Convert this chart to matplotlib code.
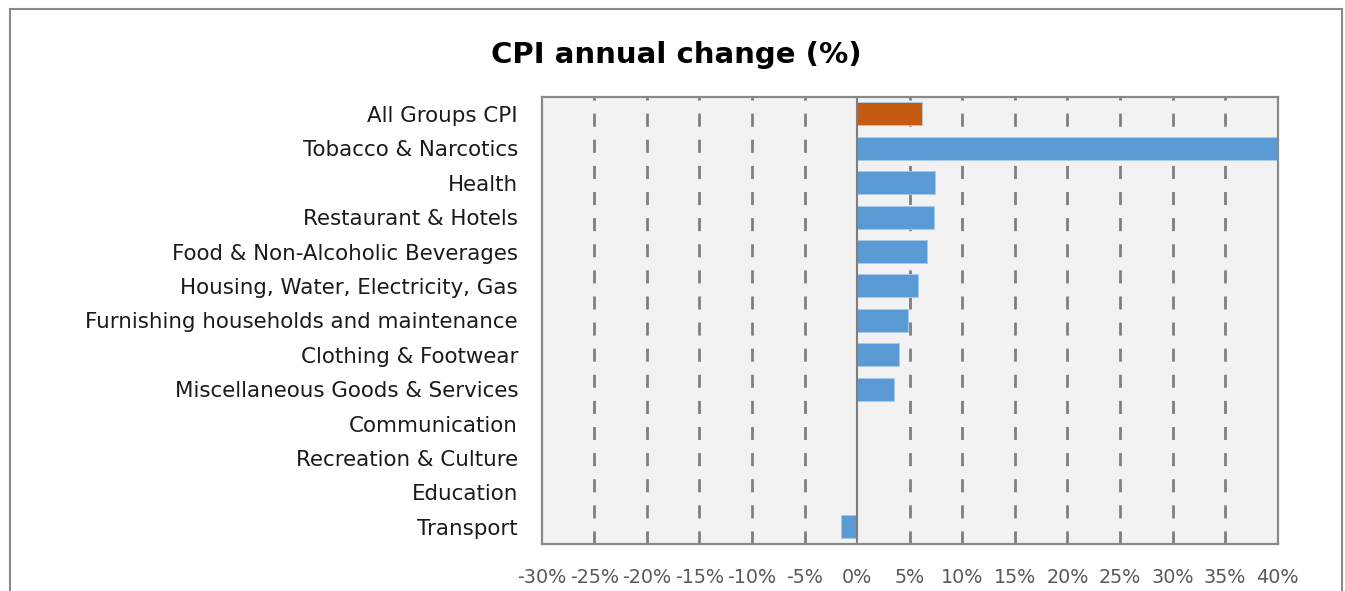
import matplotlib
matplotlib.use("Agg")
import matplotlib.pyplot as plt
from matplotlib.patches import Rectangle

categories = [
    "All Groups CPI",
    "Tobacco & Narcotics",
    "Health",
    "Restaurant & Hotels",
    "Food & Non-Alcoholic Beverages",
    "Housing, Water, Electricity, Gas",
    "Furnishing households and maintenance",
    "Clothing & Footwear",
    "Miscellaneous Goods & Services",
    "Communication",
    "Recreation & Culture",
    "Education",
    "Transport",
]
values = [6.2, 42.0, 7.4, 7.3, 6.6, 5.8, 4.8, 4.0, 3.5, 0.0, 0.0, 0.0, -1.5]
xticks = [-30, -25, -20, -15, -10, -5, 0, 5, 10, 15, 20, 25, 30, 35, 40]
xtick_labels = ["-30%", "-25%", "-20%", "-15%", "-10%", "-5%", "0%", "5%",
                "10%", "15%", "20%", "25%", "30%", "35%", "40%"]
title = "CPI annual change (%)"

FONT = ["DejaVu Sans"]
plt.rcParams["font.family"] = FONT

W, H = 1345, 591
fig = plt.figure(figsize=(W / 100, H / 100), dpi=100)
fig.patch.set_facecolor("white")

# outer chart border
fig.patches.append(Rectangle((10 / W, -0.05), (1342 - 10) / W, 1 - 9 / H + 0.05,
                             transform=fig.transFigure, fill=False,
                             edgecolor="#8a8a8a", lw=1.5, zorder=0))

left, right, top, bottom = 541.7, 1277.7, 96.7, 544.0
ax = fig.add_axes([left / W, 1 - bottom / H, (right - left) / W, (bottom - top) / H])
ax.set_facecolor("#f2f2f2")

n = len(categories)
ypos = list(range(n))
colors = ["#c55a11"] + ["#5b9bd5"] * (n - 1)
ax.barh(ypos, values, height=0.67, color=colors, edgecolor="#a9c9ea",
        linewidth=0.6, zorder=3)

ax.set_xlim(xticks[0], xticks[-1])
ax.set_ylim(n - 0.5, -0.5)

for t in xticks[1:-1]:
    if t == 0:
        continue
    ax.axvline(t, color="#7f7f7f", lw=2.0, linestyle=(0, (4.7, 4.7)), zorder=1)
ax.axvline(0, color="#7f7f7f", lw=1.5, zorder=4)

ax.set_xticks(xticks)
ax.set_xticklabels(xtick_labels, color="#595959", fontsize=13.8)
ax.set_yticks(ypos)
ax.set_yticklabels(categories, color="#1a1a1a", fontsize=15.4)
ax.tick_params(axis="both", length=0)
ax.tick_params(axis="y", pad=17)
ax.tick_params(axis="x", pad=17)

for s in ax.spines.values():
    s.set_color("#898989")
    s.set_linewidth(1.6)
    s.set_zorder(5)

fig.text(676.5 / W, 1 - 55 / H, title, ha="center", va="center",
         fontsize=21, fontweight="bold", color="#000000")

fig.savefig("out.png", dpi=100)
